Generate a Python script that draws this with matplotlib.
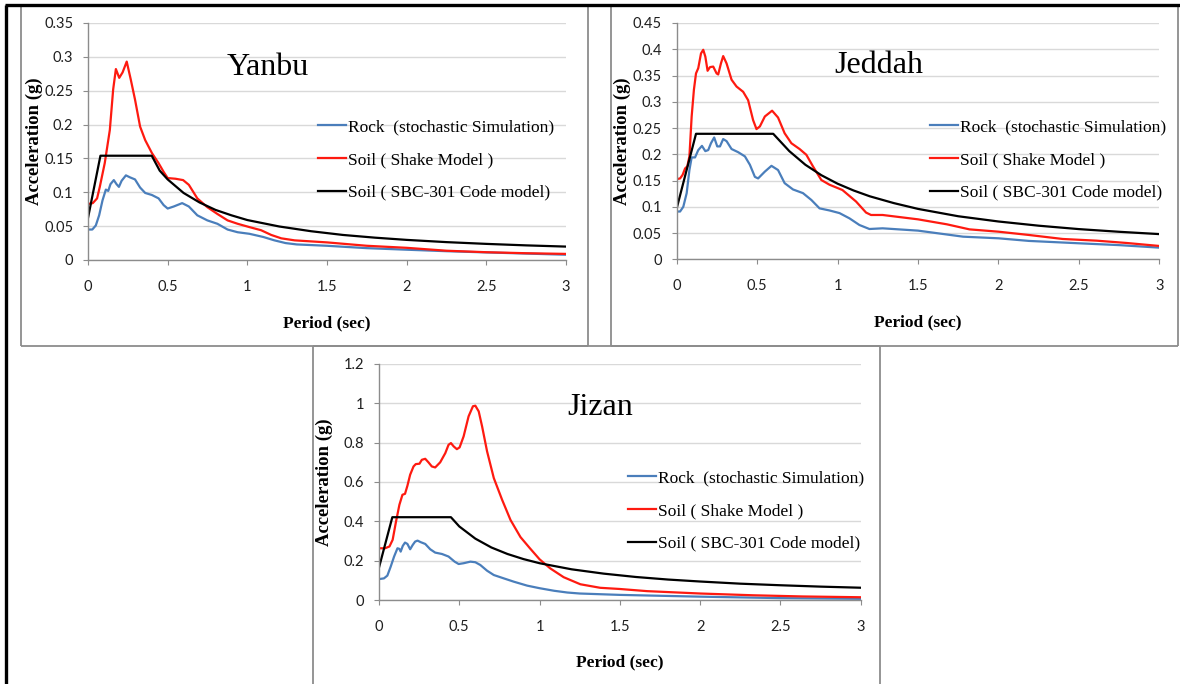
import matplotlib
matplotlib.use("Agg")
import matplotlib.pyplot as plt
from matplotlib.lines import Line2D
from matplotlib.ticker import FuncFormatter, MultipleLocator

# ---------------- data ----------------
period_ticks = [0, 0.5, 1, 1.5, 2, 2.5, 3]
legend_labels = ["Rock  (stochastic Simulation)", "Soil ( Shake Model )",
                 "Soil ( SBC-301 Code model)"]

# Yanbu
yanbu_T_rock = [0.006, 0.027, 0.049, 0.070, 0.091, 0.112, 0.127, 0.141, 0.162, 0.179,
                0.194, 0.211, 0.238, 0.264, 0.295, 0.327, 0.359, 0.401, 0.443, 0.475,
                0.5, 0.538, 0.591, 0.633, 0.686, 0.749, 0.812, 0.876, 0.939, 1.013,
                1.10, 1.17, 1.24, 1.31, 1.5, 1.75, 2.0, 2.25, 2.5, 2.75, 3.0]
yanbu_rock = [0.045, 0.045, 0.051, 0.066, 0.088, 0.104, 0.102, 0.112, 0.118, 0.112,
              0.108, 0.117, 0.125, 0.122, 0.119, 0.107, 0.099, 0.096, 0.091, 0.081,
              0.076, 0.079, 0.084, 0.079, 0.066, 0.0585, 0.0535, 0.045, 0.041, 0.0387,
              0.034, 0.029, 0.025, 0.023, 0.021, 0.0175, 0.0152, 0.013, 0.0112, 0.0095, 0.0078]
yanbu_T_shake = [0.006, 0.03, 0.057, 0.074, 0.105, 0.137, 0.158, 0.175, 0.196, 0.217,
                 0.243, 0.268, 0.295, 0.327, 0.359, 0.401, 0.443, 0.475, 0.5, 0.549,
                 0.597, 0.633, 0.686, 0.749, 0.812, 0.876, 0.939, 1.013, 1.086, 1.15,
                 1.213, 1.297, 1.5, 1.75, 2.0, 2.25, 2.5, 2.75, 3.0]
yanbu_shake = [0.083, 0.084, 0.091, 0.108, 0.143, 0.192, 0.252, 0.282, 0.269, 0.277,
               0.293, 0.267, 0.237, 0.197, 0.177, 0.158, 0.143, 0.130, 0.121, 0.120,
               0.118, 0.111, 0.091, 0.078, 0.068, 0.0585, 0.0535, 0.0486, 0.044, 0.037,
               0.032, 0.029, 0.026, 0.021, 0.018, 0.0137, 0.0115, 0.010, 0.009]
yanbu_T_code = [0, 0.078, 0.4, 0.45, 0.5, 0.6, 0.7, 0.8, 0.9, 1.0, 1.2, 1.4, 1.6, 1.8,
                2.0, 2.25, 2.5, 2.75, 3.0]
yanbu_code = [0.062, 0.154, 0.154, 0.132, 0.119, 0.099, 0.085, 0.074, 0.066, 0.059,
              0.0495, 0.0425, 0.037, 0.033, 0.0297, 0.0264, 0.0238, 0.0216, 0.0198]

# Jeddah
jeddah_T_rock = [0.006, 0.021, 0.041, 0.062, 0.079, 0.093, 0.114, 0.134, 0.157, 0.178,
                 0.196, 0.213, 0.233, 0.252, 0.269, 0.289, 0.31, 0.341, 0.382, 0.424,
                 0.455, 0.486, 0.506, 0.548, 0.589, 0.63, 0.671, 0.723, 0.785, 0.837,
                 0.888, 0.95, 1.012, 1.074, 1.136, 1.198, 1.28, 1.5, 1.78, 2.0, 2.19,
                 2.5, 2.75, 3.0]
jeddah_rock = [0.091, 0.091, 0.100, 0.126, 0.170, 0.194, 0.194, 0.208, 0.216, 0.206,
               0.208, 0.221, 0.232, 0.215, 0.215, 0.229, 0.225, 0.210, 0.204, 0.196,
               0.180, 0.157, 0.154, 0.167, 0.178, 0.170, 0.145, 0.133, 0.126, 0.113,
               0.097, 0.093, 0.088, 0.078, 0.0653, 0.0577, 0.059, 0.0546, 0.0431, 0.040,
               0.035, 0.0305, 0.027, 0.0222]
jeddah_T_shake = [0.006, 0.021, 0.037, 0.052, 0.066, 0.079, 0.093, 0.107, 0.12, 0.134,
                  0.151, 0.165, 0.178, 0.192, 0.207, 0.227, 0.248, 0.258, 0.275, 0.289,
                  0.31, 0.341, 0.372, 0.413, 0.444, 0.475, 0.496, 0.517, 0.548, 0.593,
                  0.63, 0.671, 0.713, 0.764, 0.806, 0.847, 0.899, 0.95, 1.03, 1.115,
                  1.177, 1.208, 1.28, 1.5, 1.68, 1.82, 2.0, 2.19, 2.4, 2.61, 2.8, 3.0]
jeddah_shake = [0.153, 0.154, 0.161, 0.173, 0.177, 0.196, 0.272, 0.323, 0.354, 0.364,
                0.392, 0.399, 0.386, 0.359, 0.366, 0.367, 0.354, 0.352, 0.373, 0.387,
                0.373, 0.342, 0.329, 0.319, 0.303, 0.265, 0.248, 0.253, 0.272, 0.283,
                0.270, 0.240, 0.221, 0.210, 0.199, 0.177, 0.151, 0.142, 0.132, 0.110,
                0.089, 0.0844, 0.0844, 0.0761, 0.0666, 0.057, 0.0526, 0.0463, 0.0387,
                0.0355, 0.031, 0.0254]
jeddah_T_code = [0, 0.12, 0.6, 0.7, 0.8, 0.9, 1.0, 1.1, 1.2, 1.35, 1.5, 1.75, 2.0, 2.25,
                 2.5, 2.75, 3.0]
jeddah_code = [0.097, 0.239, 0.239, 0.206, 0.18, 0.16, 0.144, 0.131, 0.12, 0.107, 0.096,
               0.082, 0.072, 0.064, 0.0575, 0.0524, 0.048]

# Jizan
jizan_T_rock = [0.006, 0.031, 0.052, 0.073, 0.094, 0.115, 0.127, 0.135, 0.148, 0.162,
                0.177, 0.194, 0.21, 0.225, 0.24, 0.26, 0.288, 0.319, 0.35, 0.392,
                0.433, 0.471, 0.496, 0.527, 0.569, 0.6, 0.631, 0.673, 0.715, 0.777,
                0.84, 0.923, 1.0, 1.09, 1.173, 1.25, 1.5, 2.0, 2.5, 3.0]
jizan_rock = [0.107, 0.110, 0.124, 0.170, 0.221, 0.263, 0.260, 0.246, 0.275, 0.292,
              0.285, 0.258, 0.280, 0.297, 0.302, 0.294, 0.285, 0.258, 0.241, 0.234,
              0.221, 0.195, 0.183, 0.187, 0.195, 0.192, 0.178, 0.149, 0.127, 0.110,
              0.093, 0.073, 0.06, 0.047, 0.038, 0.033, 0.026, 0.017, 0.0095, 0.006]
jizan_T_shake = [0.006, 0.037, 0.065, 0.085, 0.106, 0.127, 0.146, 0.162, 0.177, 0.194,
                 0.215, 0.229, 0.252, 0.267, 0.288, 0.308, 0.329, 0.35, 0.381, 0.413,
                 0.433, 0.448, 0.465, 0.485, 0.502, 0.527, 0.558, 0.585, 0.6, 0.621,
                 0.642, 0.673, 0.715, 0.767, 0.819, 0.881, 0.94, 1.0, 1.066, 1.15,
                 1.254, 1.378, 1.5, 1.67, 2.0, 2.33, 2.64, 3.0]
jizan_shake = [0.263, 0.263, 0.272, 0.306, 0.399, 0.484, 0.535, 0.540, 0.581, 0.637,
               0.679, 0.691, 0.693, 0.713, 0.718, 0.700, 0.679, 0.674, 0.700, 0.747,
               0.789, 0.798, 0.781, 0.767, 0.776, 0.832, 0.934, 0.985, 0.988, 0.959,
               0.883, 0.756, 0.620, 0.509, 0.407, 0.32, 0.263, 0.207, 0.161, 0.116,
               0.08, 0.062, 0.056, 0.045, 0.033, 0.024, 0.018, 0.014]
jizan_T_code = [0, 0.083, 0.448, 0.5, 0.6, 0.7, 0.8, 0.9, 1.0, 1.2, 1.4, 1.6, 1.8, 2.0,
                2.25, 2.5, 2.75, 3.0]
jizan_code = [0.165, 0.421, 0.421, 0.374, 0.312, 0.267, 0.234, 0.208, 0.187, 0.156,
              0.134, 0.117, 0.104, 0.094, 0.083, 0.075, 0.068, 0.0624]

# ---------------- figure ----------------
W, H = 1180, 684
fig = plt.figure(figsize=(W / 100, H / 100), dpi=100)
fig.patch.set_facecolor("white")

serif = ["Liberation Serif", "DejaVu Serif"]
tickfont = ["Lato", "DejaVu Sans"]
c_rock, c_shake, c_code = "#4a7ebb", "#fe1a10", "#000000"
grey = "#8c8c8c"


def box(x0, y0, x1, y1):
    # pixel box -> axes rect in figure fraction
    return [x0 / W, 1 - y1 / H, (x1 - x0) / W, (y1 - y0) / H]


def panel(rect, series, ymax, ystep, name, name_xy, leg_xy):
    ax = fig.add_axes(rect)
    for (T, v), col in zip(series, [c_rock, c_shake, c_code]):
        ax.plot(T, v, color=col, lw=1.6, solid_joinstyle="round")
    ax.set_xlim(0, 3)
    ax.set_ylim(0, ymax)
    ax.set_xticks(period_ticks)
    ax.yaxis.set_major_locator(MultipleLocator(ystep))
    fmt = FuncFormatter(lambda v, p: f"{round(v, 3):g}")
    ax.xaxis.set_major_formatter(fmt)
    ax.yaxis.set_major_formatter(fmt)
    ax.grid(axis="y", color="#d9d9d9", lw=1.0)
    ax.set_axisbelow(True)
    for s in ["top", "right"]:
        ax.spines[s].set_visible(False)
    for s in ["left", "bottom"]:
        ax.spines[s].set_color(grey)
        ax.spines[s].set_linewidth(1.0)
    ax.tick_params(axis="both", direction="out", length=3.5, color=grey,
                   labelcolor="#1f1f1f", labelsize=10.5)
    ax.tick_params(axis="x", pad=11)
    ax.tick_params(axis="y", pad=7)
    for lab in ax.get_xticklabels() + ax.get_yticklabels():
        lab.set_family(tickfont)
    ax.set_xlabel("Period (sec)", family=serif, fontweight="bold", fontsize=12.5)
    ax.set_ylabel("Acceleration (g)", family=serif, fontweight="bold", fontsize=13.5)
    ax.xaxis.set_label_coords(0.5, -0.232)
    ax.yaxis.set_label_coords(-0.095, 0.5)
    ax.text(name_xy[0], name_xy[1], name, transform=ax.transAxes, family=serif,
            fontsize=23, ha="center", va="center")
    leg = ax.legend(ax.get_lines(), legend_labels, loc="center left",
                    bbox_to_anchor=leg_xy, frameon=False, borderaxespad=0,
                    borderpad=0, handlelength=1.6, handletextpad=0.15,
                    labelspacing=0.95, prop={"family": serif, "size": 12.5})
    for h in leg.legend_handles:
        h.set_linewidth(1.6)
    return ax


panel(box(88, 23, 566, 260),
      [(yanbu_T_rock, yanbu_rock), (yanbu_T_shake, yanbu_shake), (yanbu_T_code, yanbu_code)],
      0.35, 0.05, "Yanbu", (0.377, 0.814), (0.481, 0.422))
panel(box(676.7, 23, 1159.3, 259.3),
      [(jeddah_T_rock, jeddah_rock), (jeddah_T_shake, jeddah_shake), (jeddah_T_code, jeddah_code)],
      0.45, 0.05, "Jeddah", (0.419, 0.822), (0.525, 0.42))
panel(box(379, 364, 860.7, 600),
      [(jizan_T_rock, jizan_rock), (jizan_T_shake, jizan_shake), (jizan_T_code, jizan_code)],
      1.2, 0.2, "Jizan", (0.459, 0.814), (0.517, 0.377))


# page frames (pixel coordinates)
def seg(x0, y0, x1, y1, col, lw):
    fig.add_artist(Line2D([x0 / W, x1 / W], [1 - y0 / H, 1 - y1 / H],
                          transform=fig.transFigure, color=col, lw=lw,
                          solid_capstyle="butt"))


for x0, y0, x1, y1 in [(21, 6, 588, 346), (611, 6, 1178, 346), (313, 346, 880, 690)]:
    seg(x0, y0, x0, y1, grey, 1.3)
    seg(x1, y0, x1, y1, grey, 1.3)
    seg(x0, y1, x1, y1, grey, 1.3)
    seg(x0, y0, x1, y0, grey, 1.3)
seg(5, 5, 1180, 5, "black", 2.4)
seg(5.5, 5, 5.5, 684, "black", 2.4)

fig.savefig("out.png", dpi=100)
